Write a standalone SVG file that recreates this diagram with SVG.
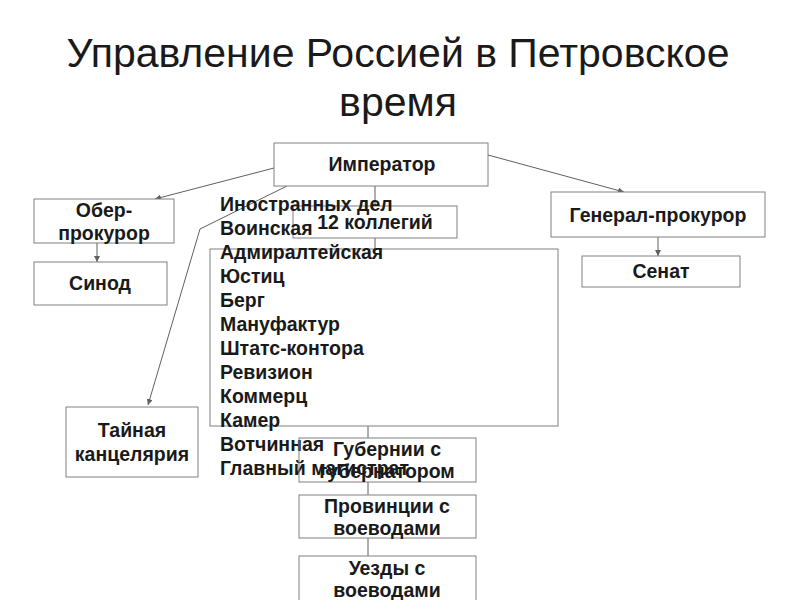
<svg xmlns="http://www.w3.org/2000/svg" width="800" height="600" viewBox="0 0 800 600">
<style>
.title{font-family:"Liberation Sans",Arial,sans-serif;font-size:41px;fill:#1a1a1a;text-anchor:middle}
.box{fill:#fff;stroke:#808080;stroke-width:1}
.lbl{font-family:"Liberation Sans",Arial,sans-serif;font-size:19.5px;font-weight:bold;fill:#1a1a1a;text-anchor:middle}
.lst{font-family:"Liberation Sans",Arial,sans-serif;font-size:19.5px;font-weight:bold;fill:#1a1a1a}
.con{fill:none;stroke:#606060;stroke-width:1}
</style>
<defs>
<marker id="ah" viewBox="0 0 6 6" refX="6" refY="3" markerWidth="6" markerHeight="6" orient="auto" markerUnits="userSpaceOnUse">
<path d="M0,0 L6,3 L0,6 Z" fill="#606060"/>
</marker>
</defs>
<rect width="800" height="600" fill="#fff"/>
<text class="title" x="398" y="67">Управление Россией в Петровское</text>
<text class="title" x="398" y="116">время</text>

<g id="connectors">
<line class="con" x1="274" y1="168" x2="155" y2="199" marker-end="url(#ah)"/>
<polyline class="con" points="287,186 200,229 148,405" marker-end="url(#ah)"/>
<line class="con" x1="488" y1="155" x2="624" y2="192" marker-end="url(#ah)"/>
<line class="con" x1="375" y1="186" x2="375" y2="206"/>
<line class="con" x1="375" y1="238" x2="375" y2="249"/>
<line class="con" x1="97" y1="243" x2="97" y2="262" marker-end="url(#ah)"/>
<line class="con" x1="658" y1="237" x2="658" y2="256" marker-end="url(#ah)"/>
<line class="con" x1="368" y1="426" x2="368" y2="438"/>
<line class="con" x1="368" y1="482" x2="368" y2="495"/>
<line class="con" x1="368" y1="538" x2="368" y2="556"/>
</g>

<g id="imperator">
<rect class="box" x="274" y="143" width="214" height="43"/>
<text class="lbl" x="382" y="171">Император</text>
</g>
<g id="ober-prokuror">
<rect class="box" x="34" y="199" width="140" height="44"/>
<text class="lbl" x="104" y="217">Обер-</text>
<text class="lbl" x="104" y="240">прокурор</text>
</g>
<g id="sinod">
<rect class="box" x="34" y="262" width="133" height="43"/>
<text class="lbl" x="100" y="290">Синод</text>
</g>
<g id="general-prokuror">
<rect class="box" x="551" y="192" width="214" height="45"/>
<text class="lbl" x="658" y="222">Генерал-прокурор</text>
</g>
<g id="senat">
<rect class="box" x="582" y="256" width="158" height="31"/>
<text class="lbl" x="661" y="278">Сенат</text>
</g>
<g id="kollegii">
<rect class="box" x="293" y="206" width="164" height="32"/>
<text class="lbl" x="375" y="229">12 коллегий</text>
</g>
<g id="kollegii-list">
<rect class="box" x="210" y="249" width="348" height="177" style="fill:none"/>
<text class="lst" x="220" y="211">Иностранных дел</text>
<text class="lst" x="220" y="235">Воинская</text>
<text class="lst" x="220" y="259">Адмиралтейская</text>
<text class="lst" x="220" y="283">Юстиц</text>
<text class="lst" x="220" y="307">Берг</text>
<text class="lst" x="220" y="331">Мануфактур</text>
<text class="lst" x="220" y="355">Штатс-контора</text>
<text class="lst" x="220" y="379">Ревизион</text>
<text class="lst" x="220" y="403">Коммерц</text>
<text class="lst" x="220" y="427">Камер</text>
<text class="lst" x="220" y="451">Вотчинная</text>
<text class="lst" x="220" y="475">Главный магистрат</text>
</g>
<g id="tainaya">
<rect class="box" x="66" y="407" width="132" height="70"/>
<text class="lbl" x="132" y="437">Тайная</text>
<text class="lbl" x="132" y="461">канцелярия</text>
</g>
<g id="gubernii">
<rect class="box" x="299" y="438" width="177" height="44" style="fill:none"/>
<text class="lbl" x="387" y="456">Губернии с</text>
<text class="lbl" x="387" y="478">губернатором</text>
</g>
<g id="provincii">
<rect class="box" x="299" y="495" width="177" height="43"/>
<text class="lbl" x="387" y="513">Провинции с</text>
<text class="lbl" x="387" y="535">воеводами</text>
</g>
<g id="uezdy">
<rect class="box" x="299" y="556" width="177" height="50"/>
<text class="lbl" x="387" y="575">Уезды с</text>
<text class="lbl" x="387" y="597">воеводами</text>
</g>
</svg>
